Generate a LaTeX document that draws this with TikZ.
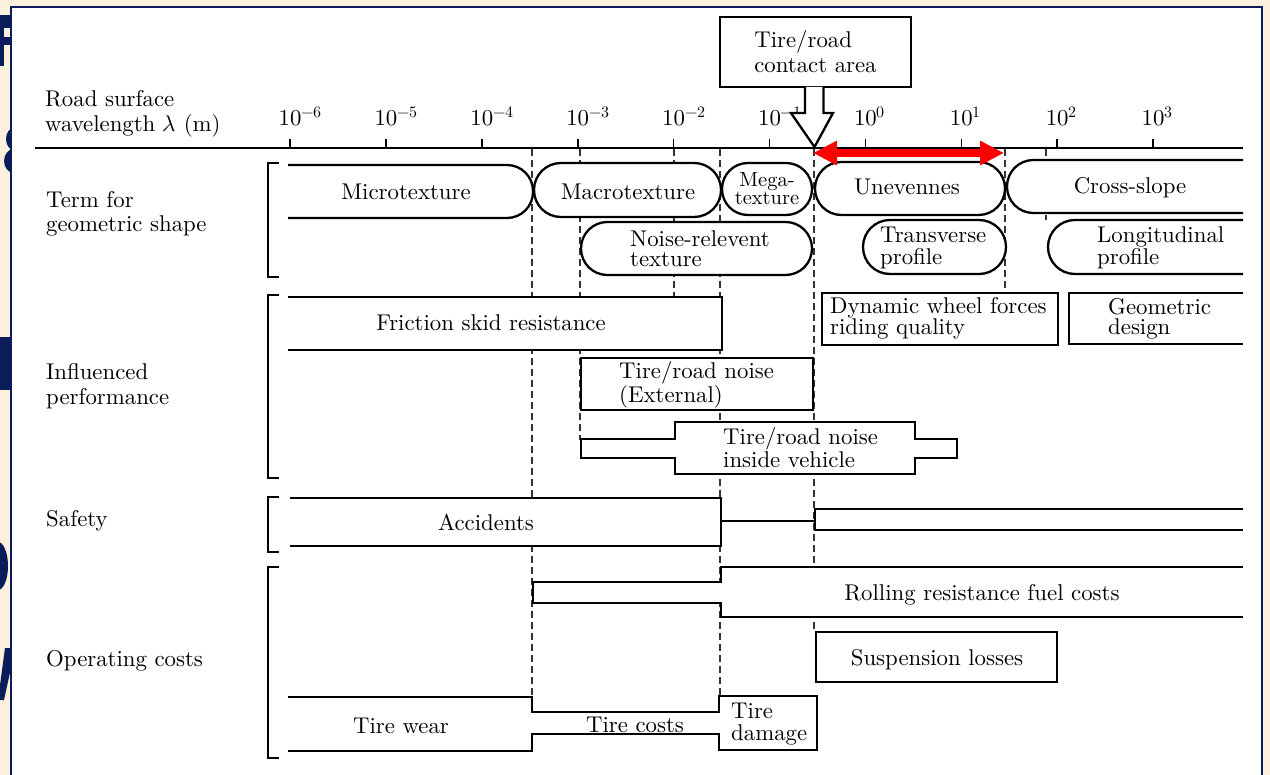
\documentclass[tikz,border=0pt]{standalone}
\usepackage{fontspec}
\usepackage{unicode-math}
\setmainfont{lmroman10-regular}[Extension=.otf]
\usetikzlibrary{arrows.meta}
\definecolor{cream}{HTML}{FDF0DC}
\definecolor{navy}{HTML}{0A1C5A}
\definecolor{arrowred}{HTML}{FF0000}
\tikzset{
  shp/.style={draw=black, fill=white, line width=2.3pt},
  guide/.style={draw=black!80, line width=1.3pt, dash pattern=on 7pt off 4pt},
  brk/.style={draw=black, line width=2pt},
  txt/.style={inner sep=0pt, font=\fontsize{22.8}{25}\selectfont},
  ml/.style={txt, align=left, anchor=base west, font=\fontsize{22.8}{#1}\selectfont},
  ml/.default=25,
}
\begin{document}
\begin{tikzpicture}[x=1pt,y=-1pt]
\useasboundingbox (0,0) rectangle (1270,775);
\fill[cream] (0,0) rectangle (1270,775);
% remnants of the slide title behind the picture
\begin{scope}
\clip (0,0) rectangle (11,775);
\fill[navy] (0,15) rectangle (11,28);
\fill[navy] (0,15) rectangle (3.5,66);
\fill[navy] (0,37) rectangle (11,45);
\fill[navy] (14,139) ellipse [x radius=8, y radius=11];
\fill[navy] (14,161) ellipse [x radius=10, y radius=12];
\fill[navy] (0,337) rectangle (11,390);
\fill[navy] (-2,566) ellipse [x radius=10, y radius=24];
\fill[navy] (5,648) -- (11,648) -- (11,668) -- (4,700) -- (-2,700) -- cycle;
\end{scope}
% white panel
\fill[white] (11,7) rectangle (1262,776);
\draw[navy, line width=1.5pt] (11,776) -- (11,7) -- (1262,7) -- (1262,776);

% dashed guide lines
\draw[guide] (532,149) -- (532,697);
\draw[guide] (580,149) -- (580,440);
\draw[guide] (674,149) -- (674,297);
\draw[guide] (720,149) -- (720,696);
\draw[guide] (814,149) -- (814,632);
\draw[guide] (1005,149) -- (1005,293);
\draw[guide] (1046,149) -- (1046,220);

% axis
\draw[line width=2pt] (35,148) -- (1243,148);
\foreach \e [count=\i from 0] in {-6,-5,-4,-3,-2,-1,0,1,2,3} {
  \pgfmathsetmacro{\tx}{290+95.9*\i}
  \draw[line width=1.6pt] (\tx,139) -- (\tx,148);
  \node[txt, anchor=base] (tick\i) at (\tx,126) {10\rlap{$^{\e}$}};
}

% brackets
\draw[brk] (279,163) -- (268,163) -- (268,277) -- (279,277);
\draw[brk] (279,295) -- (268,295) -- (268,478) -- (279,478);
\draw[brk] (279,497) -- (268,497) -- (268,552) -- (279,552);
\draw[brk] (279,567) -- (268,567) -- (268,758) -- (279,758);

% shapes: geometric terms
\path[shp, rounded corners=26pt] (288,165) -- (533,165) -- (533,218) -- (288,218);
\path[shp, rounded corners=26.9pt] (534,163) rectangle (721,217);
\path[shp, rounded corners=25.9pt] (722,163) rectangle (812,215);
\path[shp, rounded corners=26.4pt] (581,222) rectangle (812,275);
\path[shp, rounded corners=26.4pt] (815,162) rectangle (1005,215);
\path[shp, rounded corners=26.4pt] (1243,160) -- (1007,160) -- (1007,213) -- (1243,213);
\path[shp, rounded corners=26.9pt] (863,220) rectangle (1006,274);
\path[shp, rounded corners=26.9pt] (1243,220) -- (1048,220) -- (1048,274) -- (1243,274);
% influenced performance
\path[shp] (288,297) -- (722,297) -- (722,350) -- (288,350);
\path[shp] (822,293) rectangle (1058,345);
\path[shp] (1243,293) -- (1069,293) -- (1069,344) -- (1243,344);
\path[shp] (581,358) rectangle (813,410);
\path[shp] (581,439) -- (675,439) -- (675,422) -- (915,422) -- (915,439) -- (957,439)
  -- (957,458) -- (915,458) -- (915,474) -- (675,474) -- (675,458) -- (581,458) -- cycle;
% safety
\path[shp] (290,498) -- (721,498) -- (721,546) -- (290,546);
\draw[line width=2.3pt] (721,521) -- (815,521);
\path[shp] (1243,509) -- (815,509) -- (815,530) -- (1243,530);
% operating costs
\path[shp] (1243,567) -- (721,567) -- (721,582) -- (533,582) -- (533,603) -- (721,603) -- (721,617) -- (1243,617);
\path[shp] (816,632) rectangle (1057,682);
\path[shp] (288,697) -- (532,697) -- (532,712) -- (719,712) -- (719,696) -- (817,696) -- (817,750)
  -- (719,750) -- (719,734) -- (532,734) -- (532,751) -- (288,751);

% row labels (base = last line)
\node[ml] (roadlbl) at (45,132) {Road surface\\wavelength $\lambda$ (m)};
\node[ml=24] (termlbl) at (46,232) {Term for\\geometric shape};
\node[ml] (inflbl) at (46,405) {Influenced\\performance};
\node[txt, anchor=base west] (safelbl) at (46,527) {Safety};
\node[txt, anchor=base west] (oplbl) at (46,666) {Operating costs};

% texts in shapes
\node[txt, anchor=base] (micro) at (406,200) {Microtexture};
\node[txt, anchor=base] (macro) at (628,200) {Macrotexture};
\node[txt, anchor=base, align=center, font=\fontsize{20.5}{18.5}\selectfont] (mega) at (767,205) {Mega-\\texture};
\node[txt, anchor=base] (uneven) at (907,195) {Unevennes};
\node[txt, anchor=base] (cross) at (1130,194) {Cross-slope};
\node[ml=20] (noise) at (630,267) {Noise-relevent\\texture};
\node[ml=22] (transv) at (880,265) {Transverse\\profile};
\node[ml=22] (longi) at (1097,265) {Longitudinal\\profile};
\node[txt, anchor=base] (fric) at (491,331) {Friction skid resistance};
\node[ml=20] (dyn) at (830,335) {Dynamic wheel forces\\riding quality};
\node[ml=20] (geom) at (1108,335) {Geometric\\design};
\node[ml=24] (ext) at (619,403) {Tire/road noise\\(External)};
\node[ml=23] (inside) at (723,468) {Tire/road noise\\inside vehicle};
\node[txt, anchor=base] (acc) at (486,530) {Accidents};
\node[txt, anchor=base] (roll) at (982,600) {Rolling resistance fuel costs};
\node[txt, anchor=base] (susp) at (937,665) {Suspension losses};
\node[txt, anchor=base] (wear) at (401,733) {Tire wear};
\node[txt, anchor=base] (tcost) at (635,732) {Tire costs};
\node[ml=22] (tdam) at (731,740) {Tire\\damage};

% contact area box and hollow arrow
\node[draw, line width=2.3pt, fill=white, minimum width=191pt, minimum height=70pt,
  inner sep=0pt, align=left, font=\fontsize{22.8}{25}\selectfont] (contact) at (815.5,52) {Tire/road\\contact area};
\coordinate (atip) at (814.5,147);
\path[shp] (805,87) -- (805,113) -- (791,113) -- (atip) -- (833,113) -- (823.5,113) -- (823.5,87);

% red double arrow
\coordinate (rl) at (813,153);
\coordinate (rr) at (1004,153);
\draw[arrowred, line width=8pt, {Triangle[length=24pt,width=23pt]}-{Triangle[length=24pt,width=23pt]}] (rl) -- (rr);
\end{tikzpicture}
\end{document}
